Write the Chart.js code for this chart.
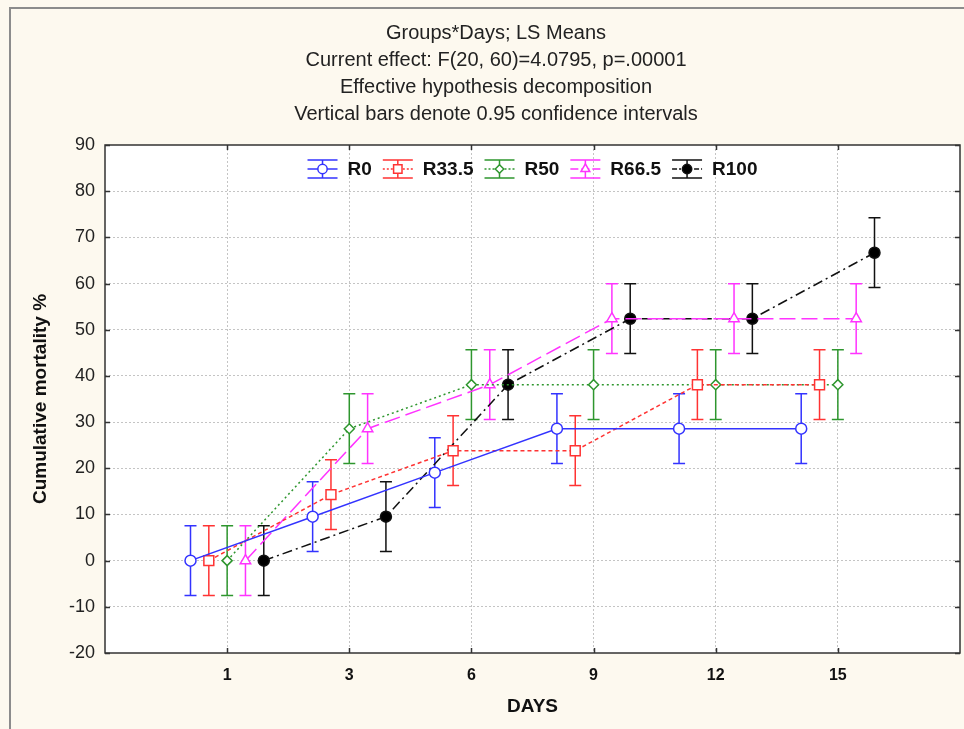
<!DOCTYPE html>
<html>
<head>
<meta charset="utf-8">
<script src="https://cdn.jsdelivr.net/npm/chart.js@4.4.1/dist/chart.umd.min.js"></script>
<style>
  html, body { margin: 0; padding: 0; background: #fdf9ef; }
</style>
</head>
<body>
<canvas id="mortality" width="964" height="729"></canvas>
<script>
// data
const days = ['1', '3', '6', '9', '12', '15'];
const groups = ['R0', 'R33.5', 'R50', 'R66.5', 'R100'];
const r0 = [0, 9.52, 19.05, 28.57, 28.57, 28.57];
const r33 = [0, 14.29, 23.81, 23.81, 38.10, 38.10];
const r50 = [0, 28.57, 38.10, 38.10, 38.10, 38.10];
const r66 = [0, 28.57, 38.10, 52.38, 52.38, 52.38];
const r100 = [0, 9.52, 38.10, 52.38, 52.38, 66.67];
const ciHalf = [7.55, 7.55, 7.55, 7.55, 7.55, 7.55]; // 0.95 CI half width
const yTicks = [-20, -10, 0, 10, 20, 30, 40, 50, 60, 70, 80, 90];
const titleLines = [
  'Groups*Days; LS Means',
  'Current effect: F(20, 60)=4.0795, p=.00001',
  'Effective hypothesis decomposition',
  'Vertical bars denote 0.95 confidence intervals'
];

const FONT = "Arial, 'Liberation Sans', sans-serif";
const shift = [-0.3, -0.15, 0, 0.15, 0.3]; // side by side so bars dont overlap

const styles = [
  { color: '#3333ff', dash: [], point: 'circle', r: 5.5, fill: '#ffffff' },
  { color: '#ff3333', dash: [4, 3], point: 'rect', r: 7, fill: '#ffffff' },
  { color: '#2e962e', dash: [2, 3], point: 'rectRot', r: 5, fill: '#ffffff' },
  { color: '#ff33ff', dash: [16, 6], point: 'triangle', r: 6, fill: '#ffffff' },
  { color: '#111111', dash: [10, 4, 2, 4], point: 'circle', r: 5.5, fill: '#000000' }
];

const values = [r0, r33, r50, r66, r100];

const datasets = groups.map((name, g) => ({
  label: name,
  data: values[g].map((v, i) => ({ x: i + 1 + shift[g], y: v })),
  ci: ciHalf,
  borderColor: styles[g].color,
  borderWidth: 1.5,
  borderDash: styles[g].dash,
  tension: 0,
  fill: false,
  pointStyle: styles[g].point,
  pointRadius: styles[g].r,
  pointBorderWidth: 1.5,
  pointBorderColor: styles[g].color,
  pointBackgroundColor: styles[g].fill
}));

// background, outer frame, white plot area and the 4 title lines
const backdrop = {
  id: 'backdrop',
  beforeDraw(chart) {
    const { ctx, chartArea: a } = chart;
    ctx.save();
    ctx.fillStyle = '#fdf9ef';
    ctx.fillRect(0, 0, chart.width, chart.height);
    ctx.strokeStyle = '#8c8c8c';
    ctx.lineWidth = 2;
    ctx.beginPath();
    ctx.moveTo(10, chart.height);
    ctx.lineTo(10, 8);
    ctx.lineTo(chart.width, 8);
    ctx.stroke();
    ctx.fillStyle = '#ffffff';
    ctx.fillRect(a.left, a.top, a.right - a.left, a.bottom - a.top);
    ctx.fillStyle = '#222';
    ctx.font = '20px ' + FONT;
    ctx.textAlign = 'center';
    ctx.textBaseline = 'middle';
    titleLines.forEach((t, i) => ctx.fillText(t, 496, 33 + i * 27));
    ctx.restore();
  }
};

const errorBars = {
  id: 'errorBars',
  beforeDatasetsDraw(chart) {
    const { ctx, scales: { x, y } } = chart;
    ctx.save();
    ctx.lineWidth = 1.5;
    ctx.setLineDash([]);
    chart.data.datasets.forEach((ds) => {
      ctx.strokeStyle = ds.borderColor;
      ds.data.forEach((p, i) => {
        const px = x.getPixelForValue(p.x);
        const top = y.getPixelForValue(p.y + ds.ci[i]);
        const bot = y.getPixelForValue(p.y - ds.ci[i]);
        ctx.beginPath();
        ctx.moveTo(px, top); ctx.lineTo(px, bot);
        ctx.moveTo(px - 6, top); ctx.lineTo(px + 6, top);
        ctx.moveTo(px - 6, bot); ctx.lineTo(px + 6, bot);
        ctx.stroke();
      });
    });
    ctx.restore();
  }
};

// plot frame, inner ticks and the legend row inside the plot
const frameAndLegend = {
  id: 'frameAndLegend',
  afterDraw(chart) {
    const { ctx, chartArea: a, scales: { x, y } } = chart;
    ctx.save();
    ctx.setLineDash([]);
    ctx.strokeStyle = '#333';
    ctx.lineWidth = 1.5;
    ctx.strokeRect(a.left, a.top, a.right - a.left, a.bottom - a.top);
    ctx.beginPath();
    y.ticks.forEach(t => {
      const py = Math.round(y.getPixelForValue(t.value)) + 0.5;
      ctx.moveTo(a.left, py); ctx.lineTo(a.left + 5, py);
      ctx.moveTo(a.right, py); ctx.lineTo(a.right - 5, py);
    });
    days.forEach((d, i) => {
      const px = Math.round(x.getPixelForValue(i + 1)) + 0.5;
      ctx.moveTo(px, a.bottom); ctx.lineTo(px, a.bottom - 5);
      ctx.moveTo(px, a.top); ctx.lineTo(px, a.top + 5);
    });
    ctx.stroke();

    // legend
    ctx.font = 'bold 19px ' + FONT;
    ctx.textBaseline = 'middle';
    ctx.textAlign = 'left';
    const iconW = 30, gapText = 10, gapItem = 11;
    const widths = chart.data.datasets.map(ds => iconW + gapText + ctx.measureText(ds.label).width);
    const total = widths.reduce((s, w) => s + w, 0) + gapItem * (widths.length - 1);
    let lx = (a.left + a.right) / 2 - total / 2;
    const ly = a.top + 24;
    chart.data.datasets.forEach((ds, g) => {
      const cx = lx + iconW / 2;
      ctx.strokeStyle = ds.borderColor;
      ctx.lineWidth = 1.5;
      ctx.setLineDash([]);
      ctx.beginPath();
      ctx.moveTo(lx, ly - 9); ctx.lineTo(lx + iconW, ly - 9);
      ctx.moveTo(lx, ly + 9); ctx.lineTo(lx + iconW, ly + 9);
      ctx.moveTo(cx, ly - 9); ctx.lineTo(cx, ly + 9);
      ctx.stroke();
      ctx.setLineDash(ds.borderDash.length ? ds.borderDash.map(v => Math.max(2, v / 2)) : []);
      ctx.beginPath();
      ctx.moveTo(lx, ly); ctx.lineTo(lx + iconW, ly);
      ctx.stroke();
      ctx.setLineDash([]);
      ctx.fillStyle = ds.pointBackgroundColor;
      Chart.helpers.drawPoint(ctx, { pointStyle: ds.pointStyle, radius: ds.pointRadius * 0.85, borderWidth: 1.5 }, cx, ly);
      ctx.fillStyle = '#111';
      ctx.fillText(ds.label, lx + iconW + gapText, ly + 1);
      lx += widths[g] + gapItem;
    });
    ctx.restore();
  }
};

new Chart(document.getElementById('mortality'), {
  type: 'line',
  data: { datasets },
  options: {
    responsive: false,
    devicePixelRatio: 1,
    animation: false,
    layout: { autoPadding: false, padding: { top: 145, right: 4, bottom: 0, left: 0 } },
    plugins: { legend: { display: false }, tooltip: { enabled: false } },
    scales: {
      x: {
        type: 'linear',
        min: 0,
        max: 7,
        afterFit: s => { s.height = 76; s.paddingLeft = 0; s.paddingRight = 0; },
        afterBuildTicks: s => { s.ticks = [0, 1, 2, 3, 4, 5, 6, 7].map(v => ({ value: v })); },
        ticks: {
          autoSkip: false,
          maxRotation: 0,
          padding: 13,
          color: '#111',
          font: { family: FONT, size: 16, weight: 'bold' },
          callback: v => days[v - 1] || ''
        },
        grid: {
          drawTicks: false,
          lineWidth: 1,
          color: c => (c.tick && c.tick.value > 0 && c.tick.value < 7) ? '#c4c4c4' : 'rgba(0,0,0,0)'
        },
        border: { display: false, dash: [2, 2] },
        title: {
          display: true,
          text: 'DAYS',
          color: '#111',
          font: { family: FONT, size: 19, weight: 'bold' },
          padding: { top: 0, bottom: 11 }
        }
      },
      y: {
        min: -20,
        max: 90,
        afterFit: s => { s.width = 105; },
        afterBuildTicks: s => { s.ticks = yTicks.map(v => ({ value: v })); },
        ticks: {
          padding: 10,
          color: '#222',
          font: { family: FONT, size: 18 }
        },
        grid: {
          drawTicks: false,
          lineWidth: 1,
          color: c => (c.tick && c.tick.value > -20 && c.tick.value < 90) ? '#c4c4c4' : 'rgba(0,0,0,0)'
        },
        border: { display: false, dash: [2, 2] },
        title: {
          display: true,
          text: 'Cumulative mortality %',
          color: '#111',
          font: { family: FONT, size: 19, weight: 'bold' },
          padding: { top: 29, bottom: 0 }
        }
      }
    }
  },
  plugins: [backdrop, errorBars, frameAndLegend]
});
</script>
</body>
</html>
